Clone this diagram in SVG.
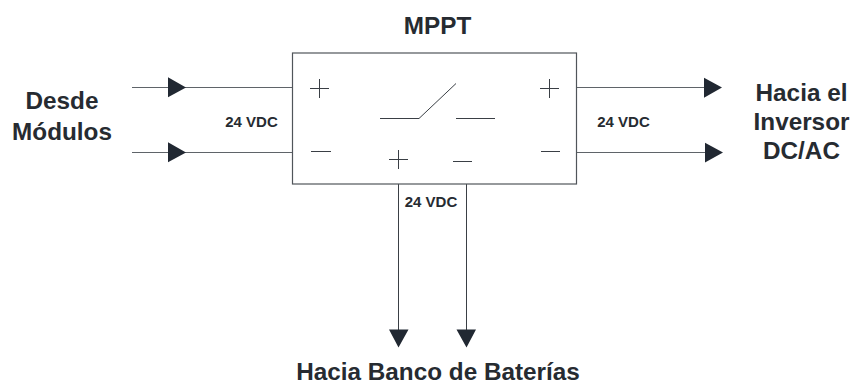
<svg xmlns="http://www.w3.org/2000/svg" width="852" height="383" viewBox="0 0 852 383">
<style>
.l{stroke:#5f6469;stroke-width:1.2;fill:none}
.t{stroke:#3a3f45;stroke-width:1;fill:none}
.a{fill:#212832}
text{font-family:"Liberation Sans",Arial,sans-serif;font-weight:bold;fill:#262b31}
.b{font-size:24.300px;text-anchor:middle}
.s{font-size:15px;text-anchor:middle}
</style>
<rect width="852" height="383" fill="#fff"/>
<g id="connectors">
<path class="l" d="M132 87.500H292M132 152.500H292M577 87.500H705M577 152.500H705"/>
<path class="t" d="M398.500 184V342M466.500 184V342"/>
<path class="a" d="M168 77.300L186 87.500L168 97.300ZM168 142.300L186 152.500L168 162.300ZM704 77.700L722 87.500L704 97.700ZM705 142.700L723 152.500L705 162.500ZM389 329.500H408.500L398.500 347.500ZM456.500 329.500H476L466.500 347.500Z"/>
</g>
<g id="mppt">
<rect x="292.500" y="53" width="284" height="131" fill="none" stroke="#50555a" stroke-width="1.200"/>
<path class="t" d="M310 88.500H329M319.500 79V98M311 151.500H331M380 118.500H419L456 83.500M456 118.500H495M540 88.500H559M549.500 79V98M541 151.500H560M389 159.500H408M398.500 150V169M453 161.500H472"/>
<text class="b" x="437.500" y="34">MPPT</text>
</g>
<g id="labels">
<text class="b" x="62" y="109">Desde</text>
<text class="b" x="62" y="140">Módulos</text>
<text class="s" x="251.500" y="127">24 VDC</text>
<text class="s" x="623.500" y="127">24 VDC</text>
<text class="s" x="431" y="207">24 VDC</text>
<text class="b" x="801.500" y="101">Hacia el</text>
<text class="b" x="801.500" y="130">Inversor</text>
<text class="b" x="801.500" y="159">DC/AC</text>
<text class="b" x="438" y="380">Hacia Banco de Baterías</text>
</g>
</svg>
